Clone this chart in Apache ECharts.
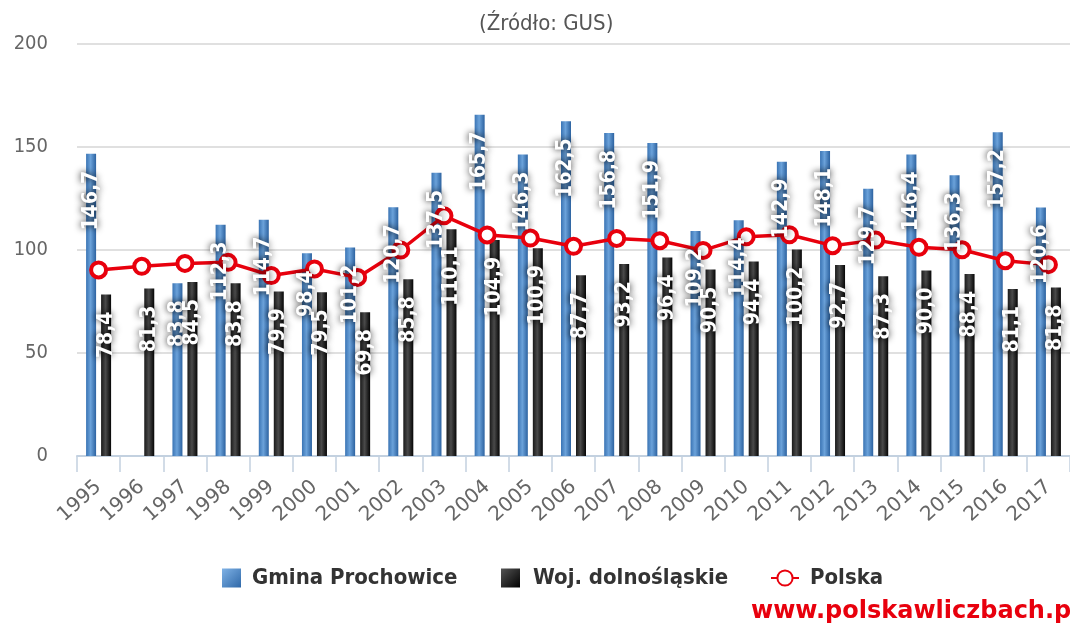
<!DOCTYPE html>
<html>
<head>
<meta charset="utf-8">
<script src="https://cdn.jsdelivr.net/npm/echarts@6/dist/echarts.min.js"></script>
<style>html,body{margin:0;padding:0;background:#fff;}#c{width:1070px;height:628px;}</style>
</head>
<body>
<div id="c"></div>
<script>
const years = ['1995','1996','1997','1998','1999','2000','2001','2002','2003','2004','2005','2006','2007','2008','2009','2010','2011','2012','2013','2014','2015','2016','2017'];
const gmina = [146.7, null, 83.8, 112.3, 114.7, 98.4, 101.2, 120.7, 137.5, 165.7, 146.3, 162.5, 156.8, 151.9, 109.2, 114.4, 142.9, 148.1, 129.7, 146.4, 136.3, 157.2, 120.6];
const woj = [78.4, 81.3, 84.5, 83.8, 79.9, 79.5, 69.8, 85.8, 110.1, 104.9, 100.9, 87.7, 93.2, 96.4, 90.5, 94.4, 100.2, 92.7, 87.3, 90.0, 88.4, 81.1, 81.8];
const polska = [90.3, 92.1, 93.5, 94.0, 87.6, 90.8, 86.7, 100.0, 116.6, 107.3, 105.8, 101.8, 105.6, 104.5, 99.8, 106.4, 107.4, 102.1, 104.8, 101.3, 100.1, 94.8, 92.9];
const yTicks = [0, 50, 100, 150, 200];

const FONT = '"DejaVu Sans Condensed", "DejaVu Sans", sans-serif';
const chart = echarts.init(document.getElementById('c'), null, {renderer: 'canvas'});

const blueGrad = new echarts.graphic.LinearGradient(0, 0, 1, 0, [
  {offset: 0, color: '#3a74b4'}, {offset: 0.45, color: '#6ba2da'}, {offset: 1, color: '#2c62a0'}]);
const blackGrad = new echarts.graphic.LinearGradient(0, 0, 1, 0, [
  {offset: 0, color: '#1a1a1a'}, {offset: 0.45, color: '#4a4a4a'}, {offset: 1, color: '#050505'}]);
const blueIcon = new echarts.graphic.LinearGradient(0, 0, 1, 1, [
  {offset: 0, color: '#7fb2e6'}, {offset: 1, color: '#2f68a8'}]);
const blackIcon = new echarts.graphic.LinearGradient(0, 0, 1, 1, [
  {offset: 0, color: '#555'}, {offset: 1, color: '#000'}]);

const fmt = p => (p.value == null ? '' : p.value.toFixed(1).replace('.', ','));
const barLabel = {
  show: true, position: 'insideTop', distance: 0, offset: [-17, 0], rotate: 90,
  align: 'right', verticalAlign: 'middle',
  color: '#fff', fontFamily: FONT, fontWeight: 'bold', fontSize: 21,
  textShadowColor: 'rgba(0,0,0,0.95)', textShadowBlur: 7,
  formatter: fmt
};

const legendText = {color: '#333', fontFamily: FONT, fontSize: 22, fontWeight: 'bold'};

chart.setOption({
  animation: false,
  backgroundColor: '#fff',
  title: {
    text: '(Źródło: GUS)', left: 474, top: 8,
    textStyle: {color: '#555', fontFamily: FONT, fontSize: 22, fontWeight: 'normal'}
  },
  legend: [
    {data: [{name: 'Gmina Prochowice', icon: 'rect', itemStyle: {color: blueIcon}}], left: 217, top: 562,
     itemWidth: 19, itemHeight: 19, textStyle: Object.assign({padding: [0, 0, 0, 6]}, legendText)},
    {data: [{name: 'Woj. dolnośląskie', icon: 'rect', itemStyle: {color: blackIcon}}], left: 496, top: 562,
     itemWidth: 19, itemHeight: 19, textStyle: Object.assign({padding: [0, 0, 0, 8]}, legendText)},
    {data: ['Polska'], left: 765, top: 562,
     itemWidth: 28, itemHeight: 19, textStyle: Object.assign({padding: [0, 0, 0, 6]}, legendText)}
  ],
  grid: {left: 77, right: -7, top: 44, bottom: 172, containLabel: false},
  xAxis: [{
    type: 'category', data: years,
    axisLine: {lineStyle: {color: '#c3d1e0', width: 2}},
    axisTick: {show: true, length: 16, lineStyle: {color: '#c3d1e0', width: 1.5}},
    axisLabel: {rotate: 42, color: '#666', fontFamily: '"DejaVu Sans", sans-serif', fontSize: 20, margin: 28, interval: 0}
  }, {
    type: 'category', data: years, show: false, position: 'bottom'
  }],
  yAxis: {
    type: 'value', min: yTicks[0], max: yTicks[yTicks.length - 1], interval: 50,
    axisLine: {show: false}, axisTick: {show: false},
    axisLabel: {color: '#666', fontFamily: FONT, fontSize: 20, margin: 29},
    splitLine: {lineStyle: {color: '#d6d6d6', width: 1.5}}
  },
  series: [
    {name: 'Gmina Prochowice', type: 'bar', xAxisIndex: 0, data: gmina, barWidth: 10, barGap: '50%',
     itemStyle: {color: blueGrad}, z: 2},
    {name: 'Woj. dolnośląskie', type: 'bar', xAxisIndex: 0, data: woj, barWidth: 10, barGap: '50%',
     itemStyle: {color: blackGrad}, z: 2},
    {name: 'Polska', type: 'line', xAxisIndex: 0, data: polska, z: 3,
     symbol: 'circle', symbolSize: 15, showAllSymbol: true,
     lineStyle: {color: '#e8000d', width: 3.5},
     itemStyle: {color: '#fff', borderColor: '#e8000d', borderWidth: 4}},
    {name: 'lblG', type: 'bar', xAxisIndex: 1, data: gmina, barWidth: 10, barGap: '50%',
     itemStyle: {color: 'rgba(0,0,0,0)'}, label: barLabel, z: 5, silent: true, legendHoverLink: false},
    {name: 'lblW', type: 'bar', xAxisIndex: 1, data: woj, barWidth: 10, barGap: '50%',
     itemStyle: {color: 'rgba(0,0,0,0)'}, label: barLabel, z: 5, silent: true, legendHoverLink: false}
  ],
  graphic: [{
    type: 'text', left: 751, top: 600,
    style: {text: 'www.polskawliczbach.pl', fill: '#e8000d', font: 'bold 24px "DejaVu Sans", sans-serif'}
  }]
});
</script>
</body>
</html>
